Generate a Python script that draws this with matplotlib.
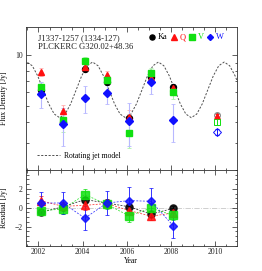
import matplotlib
matplotlib.use('Agg')
import matplotlib.pyplot as plt
from matplotlib.ticker import FixedLocator, NullFormatter, MultipleLocator
from matplotlib.lines import Line2D

plt.rcParams['font.family'] = ['Liberation Serif', 'DejaVu Serif']
FS = 5.5

# ---- data ----
years = [2002.1, 2003.1, 2004.1, 2005.1, 2006.1, 2007.1, 2008.1]
flux_ka = [6.19, 4.00, 8.29, 6.93, 4.20, 7.35, 6.42]
flux_q = [7.92, 4.63, 8.47, 7.58, 4.29, 7.30, 6.35]
flux_v = [6.42, 4.10, 9.14, 7.09, 3.42, 7.81, 6.00]
flux_w = [5.87, 3.87, 5.54, 5.94, 4.05, 6.87, 4.09]
err_ka = [0.25, 0.25, 0.3, 0.3, 0.25, 0.3, 0.3]
err_q = [0.4, 0.4, 0.4, 0.4, 0.4, 0.4, 0.4]
err_v = [0.5, 0.6, 0.5, 0.5, 0.6, 0.5, 0.5]
err_w = [1.0, 1.0, 1.0, 0.85, 1.15, 1.0, 1.05]

planck_year = [2010.1]
planck_ka = [4.37]
planck_q = [4.33]
planck_v = [4.00]
planck_w = [3.50]
planck_err = [0.15]

res_ka = [-0.5, 0.1, 0.86, 0.5, 0.1, -0.68, -0.07]
res_q = [0.75, 0.15, 0.25, 0.45, -0.3, -0.9, -0.55]
res_v = [-0.32, -0.14, 1.39, 0.35, -0.86, -0.04, -0.8]
res_w = [0.5, 0.5, -1.1, 0.5, 0.75, 0.68, -1.9]
rerr_ka = [0.3, 0.3, 0.3, 0.3, 0.3, 0.3, 0.3]
rerr_q = [0.45, 0.45, 0.45, 0.45, 0.45, 0.45, 0.45]
rerr_v = [0.45, 0.5, 0.6, 0.5, 0.6, 0.5, 0.5]
rerr_w = [1.2, 1.2, 1.25, 1.3, 1.4, 1.4, 1.3]

model_years = [2001.222, 2001.470, 2001.719, 2001.967, 2002.215, 2002.464, 2002.712,
               2002.960, 2003.209, 2003.457, 2003.705, 2003.953, 2004.202, 2004.450,
               2004.698, 2004.947, 2005.195, 2005.443, 2005.692, 2005.940, 2006.188,
               2006.436, 2006.685, 2006.933, 2007.181, 2007.430, 2007.678, 2007.926,
               2008.175, 2008.423, 2008.671, 2008.919, 2009.168, 2009.416, 2009.664,
               2009.913, 2010.161, 2010.409, 2010.658, 2010.906, 2011.154]
model_flux = [8.61, 9.06, 8.61, 7.49, 6.19, 5.12, 4.46,
              4.24, 4.46, 5.12, 6.19, 7.49, 8.61, 9.06,
              8.61, 7.49, 6.19, 5.12, 4.46, 4.24, 4.46,
              5.12, 6.19, 7.49, 8.61, 9.06, 8.61, 7.49,
              6.19, 5.12, 4.46, 4.24, 4.46, 5.12, 6.19,
              7.49, 8.61, 9.06, 8.61, 7.49, 6.19]

band_names = ['Ka', 'Q', 'V', 'W']
xtick_years = [2002, 2004, 2006, 2008, 2010]

# ---- styles ----
C_KA, C_Q, C_V, C_W = 'black', '#ff1010', '#10e010', '#1010ff'
LIGHT = {C_KA: '#b0b0b0', C_Q: '#ffb0b0', C_V: '#b0f0b0', C_W: '#b8b8ff'}
MK = {C_KA: ('o', 4.3), C_Q: ('^', 4.5), C_V: ('s', 4.3), C_W: ('D', 3.6)}

fig = plt.figure(figsize=(2.62, 2.71), dpi=100)
ax1 = fig.add_axes([0.098, 0.373, 0.805, 0.529])
ax2 = fig.add_axes([0.098, 0.094, 0.805, 0.279], sharex=ax1)

ax1.plot(model_years, model_flux, ls=(0, (2.2, 1.6)), color='#505050', lw=0.7, zorder=1)

series = [(flux_ka, err_ka, C_KA), (flux_q, err_q, C_Q), (flux_v, err_v, C_V), (flux_w, err_w, C_W)]
for f, e, c in series:
    ax1.errorbar(years, f, yerr=e, fmt='none', ecolor=LIGHT[c], elinewidth=0.8,
                 capsize=1.2, capthick=0.6, zorder=2)
for f, e, c in series:
    m, s = MK[c]
    ax1.plot(years, f, ls='none', marker=m, ms=s, color=c, mec=c, zorder=3)

# Planck points (open symbols)
for f, c, key in [(planck_ka, '#888888', C_KA), (planck_q, C_Q, C_Q),
                  (planck_v, C_V, C_V), (planck_w, C_W, C_W)]:
    m, s = MK[key]
    ax1.errorbar(planck_year, f, yerr=planck_err, fmt=m, ms=s, mfc='none', mec=c,
                 mew=0.7, ecolor=c, elinewidth=0.7, capsize=1.2, capthick=0.6, zorder=3)
ax1.plot(planck_year, planck_q, ls='none', marker='^', ms=3.0, color=C_Q, zorder=4)

ax1.set_yscale('log')
ax1.set_ylim(2.08, 14.7)
ax1.set_xlim(2001.42, 2010.97)
ax1.yaxis.set_major_locator(FixedLocator([10]))
ax1.yaxis.set_major_formatter(matplotlib.ticker.FixedFormatter(['10']))
ax1.yaxis.set_minor_locator(FixedLocator([3, 4, 5, 6, 7, 8, 9]))
ax1.yaxis.set_minor_formatter(NullFormatter())
ax1.set_ylabel('Flux Density [Jy]', fontsize=FS)
ax1.yaxis.set_label_coords(-0.085, 0.5)
plt.setp(ax1.get_xticklabels(), visible=False)

ax1.text(0.06, 0.92, 'J1337-1257 (1334-127)', transform=ax1.transAxes, fontsize=6.2,
         va='center', ha='left', color='#202020')
ax1.text(0.06, 0.855, 'PLCKERC G320.02+48.36', transform=ax1.transAxes, fontsize=6.2,
         va='center', ha='left', color='#202020')

handles = [Line2D([], [], ls='none', marker=MK[c][0], ms=MK[c][1] * 0.85, color=c)
           for c in (C_KA, C_Q, C_V, C_W)]
leg1 = ax1.legend(handles, band_names, ncol=4, loc='upper right', bbox_to_anchor=(0.955, 0.975),
                  frameon=False, fontsize=6.0, handlelength=0.6, handletextpad=0.35,
                  columnspacing=0.5, labelcolor=[C_KA, C_Q, C_V, C_W], borderaxespad=0)
ax1.add_artist(leg1)
mh = Line2D([], [], ls=(0, (2.2, 1.6)), color='#505050', lw=0.7)
ax1.legend([mh], ['Rotating jet model'], loc='lower left', bbox_to_anchor=(0.04, 0.05),
           frameon=False, fontsize=FS, handlelength=3.0, handletextpad=0.5, borderaxespad=0)

# residuals
ax2.axhline(0, color='#c8c8c8', lw=0.6, ls='-.', zorder=0)
for r, e, c in [(res_ka, rerr_ka, C_KA), (res_q, rerr_q, C_Q), (res_v, rerr_v, C_V), (res_w, rerr_w, C_W)]:
    m, s = MK[c]
    ax2.errorbar(years, r, yerr=e, fmt=m, ms=s * 1.2, color=c, ecolor=c, ls=(0, (2.5, 1.8)), lw=0.55,
                 elinewidth=0.7, capsize=1.3, capthick=0.6, alpha=0.85, zorder=3)
ax2.set_ylim(-4, 4)
ax2.yaxis.set_major_locator(FixedLocator([-2, 0, 2]))
ax2.yaxis.set_minor_locator(MultipleLocator(0.5))
ax2.set_ylabel('Residual [Jy]', fontsize=FS)
ax2.yaxis.set_label_coords(-0.085, 0.5)
ax2.set_xlabel('Year', fontsize=FS, labelpad=0.5)
ax2.xaxis.set_major_locator(FixedLocator(xtick_years))
ax2.xaxis.set_minor_locator(MultipleLocator(0.5))

for ax in (ax1, ax2):
    ax.tick_params(which='both', direction='in', top=True, right=True, width=0.5,
                   labelsize=FS, pad=2, colors='#202020')
    ax.tick_params(which='major', length=3.5)
    ax.tick_params(which='minor', length=1.8)
    for sp in ax.spines.values():
        sp.set_linewidth(0.6)
        sp.set_color('#303030')

fig.savefig('out.png', dpi=100)
